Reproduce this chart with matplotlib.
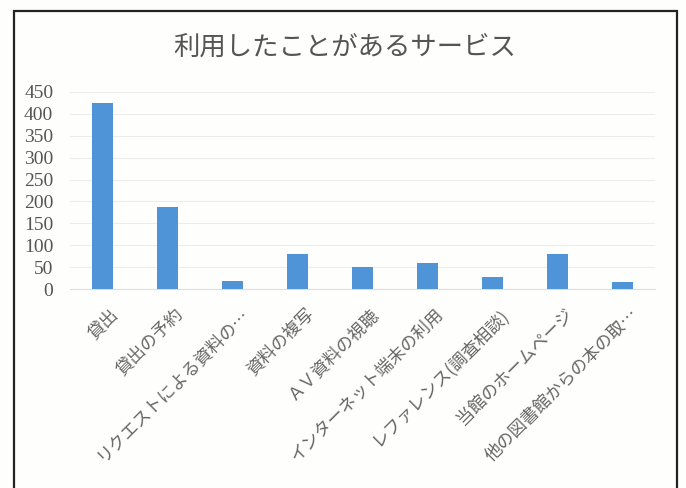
import matplotlib
matplotlib.use("Agg")
import matplotlib.pyplot as plt
from matplotlib.patches import Rectangle
from matplotlib.transforms import ScaledTranslation

plt.rcParams['font.family'] = ['Noto Sans CJK JP', 'DejaVu Sans']

title = "利用したことがあるサービス"
categories = ["貸出", "貸出の予約", "リクエストによる資料の…", "資料の複写",
              "ＡＶ資料の視聴", "インターネット端末の利用", "レファレンス(調査相談)",
              "当館のホームページ", "他の図書館からの本の取…"]
values = [425, 188, 19, 81, 50, 59, 27, 80, 15]
yticks = [0, 50, 100, 150, 200, 250, 300, 350, 400, 450]

W, H = 686, 488
fig = plt.figure(figsize=(W / 100, H / 100), dpi=100, facecolor="#fefefc")

# outer chart border (bottom runs off the image)
fig.patches.append(Rectangle((14 / W, -0.05), (677 - 14) / W, 1.05 - 11 / H,
                             transform=fig.transFigure, fill=False,
                             edgecolor="#222222", linewidth=1.6))

ax = fig.add_axes([70 / W, 1 - 289 / H, (655 - 70) / W, (289 - 92) / H])
ax.set_facecolor("none")
x = range(len(categories))
ax.bar(x, values, width=0.31, color="#4f94d6", zorder=3)
ax.set_xlim(-0.5, len(categories) - 0.5)
ax.set_ylim(0, 450)
ax.set_yticks(yticks)
ax.set_yticklabels([str(v) for v in yticks], family=['Liberation Serif', 'DejaVu Serif'],
                   fontsize=14, color="#555555")
ax.yaxis.grid(True, color="#ececec", linewidth=0.8, zorder=0)
ax.set_axisbelow(True)
for s in ["top", "right", "left"]:
    ax.spines[s].set_visible(False)
ax.spines["bottom"].set_color("#dddddd")
ax.tick_params(axis="y", length=0, pad=12)
ax.tick_params(axis="x", length=0, pad=16)
ax.set_xticks(list(x))
ax.set_xticklabels(categories, rotation=45, ha="right", va="center",
                   rotation_mode="anchor", fontsize=12.5, color="#666666")
for lab in ax.get_xticklabels():
    lab.set_transform(lab.get_transform() + ScaledTranslation(13 / 100, 0, fig.dpi_scale_trans))

fig.text(345 / W, 1 - 47 / H, title, ha="center", va="center", fontsize=19, color="#555555")

fig.savefig("out.png", dpi=100, facecolor=fig.get_facecolor())
